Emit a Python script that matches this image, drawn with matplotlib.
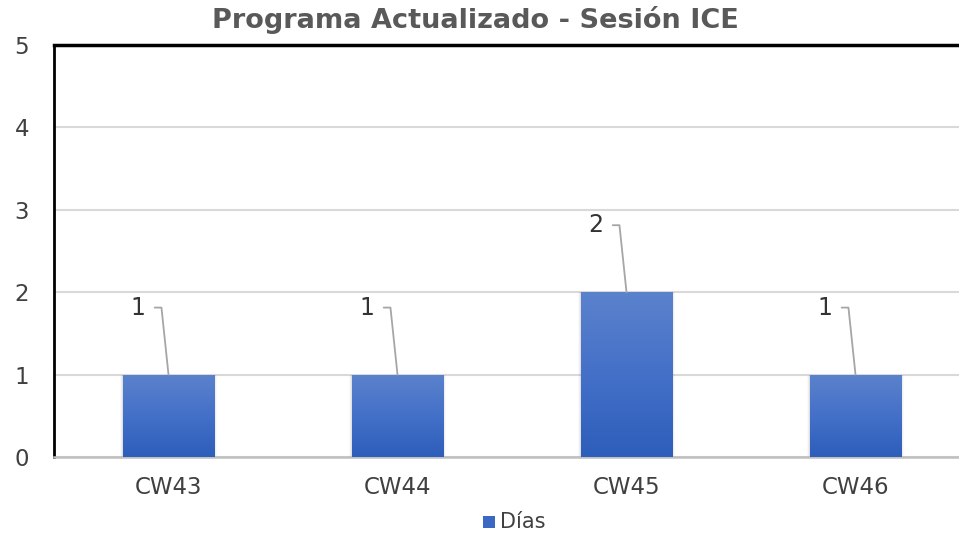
import numpy as np
import matplotlib.pyplot as plt
from matplotlib.patches import Rectangle
from matplotlib.colors import LinearSegmentedColormap

weeks = ['CW43', 'CW44', 'CW45', 'CW46']
dias = [1, 1, 2, 1]
y_ticks = [0, 1, 2, 3, 4, 5]

title = 'Programa Actualizado - Sesión ICE'
legend_label = 'Días'

plt.rcParams['font.family'] = 'DejaVu Sans'

fig = plt.figure(figsize=(9.59, 5.33), dpi=100)
ax = fig.add_axes([54 / 959, 76 / 533, 916 / 959, 412 / 533])

x = np.arange(len(weeks))
bar_w = 0.40
grad = LinearSegmentedColormap.from_list('bar', ['#2d5ebb', '#4470c8', '#5b82cc'])

bars = ax.bar(x, dias, width=bar_w, color='none', zorder=3)
for rect in bars:
    bx, by = rect.get_x(), rect.get_y()
    bw, bh = rect.get_width(), rect.get_height()
    # soft shadow along the sides of the bar
    for k, a in enumerate([0.06, 0.04, 0.025]):
        pad = 0.004 * (k + 1)
        ax.add_patch(Rectangle((bx - pad, by), bw + 2 * pad, bh,
                               facecolor='#000000', alpha=a, edgecolor='none', zorder=2))
    img = ax.imshow(np.linspace(0, 1, 256).reshape(-1, 1), cmap=grad, origin='lower',
                    extent=[bx, bx + bw, by, by + bh], aspect='auto', zorder=3)
    clip = Rectangle((bx, by), bw, bh, transform=ax.transData)
    img.set_clip_path(clip)

# value labels with leader lines
for xi, v in zip(x, dias):
    ax.annotate(str(v), xy=(xi, v), xytext=(-31, 67), textcoords='offset pixels',
                ha='center', va='center', fontsize=17, color='#333333',
                arrowprops=dict(arrowstyle='-', color='#a6a6a6', lw=1.3,
                                relpos=(1, 0.5), shrinkA=5, shrinkB=0,
                                connectionstyle='angle,angleA=0,angleB=96,rad=0'),
                zorder=4)

ax.set_xlim(-0.5, len(weeks) - 0.5)
ax.set_ylim(0, 5)
ax.set_yticks(y_ticks)
ax.set_xticks(x)
ax.set_xticklabels(weeks)
ax.tick_params(axis='both', length=0, labelsize=16.5, labelcolor='#404040')
ax.tick_params(axis='y', pad=18)
ax.tick_params(axis='x', pad=14)
ax.yaxis.grid(True, color='#d9d9d9', lw=1.5, zorder=0)
ax.set_axisbelow(True)

ax.spines['right'].set_visible(False)
ax.spines['left'].set_color('black')
ax.spines['left'].set_linewidth(2)
ax.spines['top'].set_color('black')
ax.spines['top'].set_linewidth(2.5)
ax.spines['bottom'].set_color('#bfbfbf')
ax.spines['bottom'].set_linewidth(1.8)

fig.text(475 / 959, 1 - 20 / 533, title, ha='center', va='center',
         fontsize=19.5, fontweight='bold', color='#595959')

# legend
fig.patches.append(Rectangle((483 / 959, 1 - 528 / 533), 12 / 959, 12 / 533,
                             transform=fig.transFigure, facecolor='#3a68c2',
                             edgecolor='none'))
fig.text(500 / 959, 1 - 522 / 533, legend_label, ha='left', va='center',
         fontsize=15, color='#404040')

fig.savefig('out.png', dpi=100)
